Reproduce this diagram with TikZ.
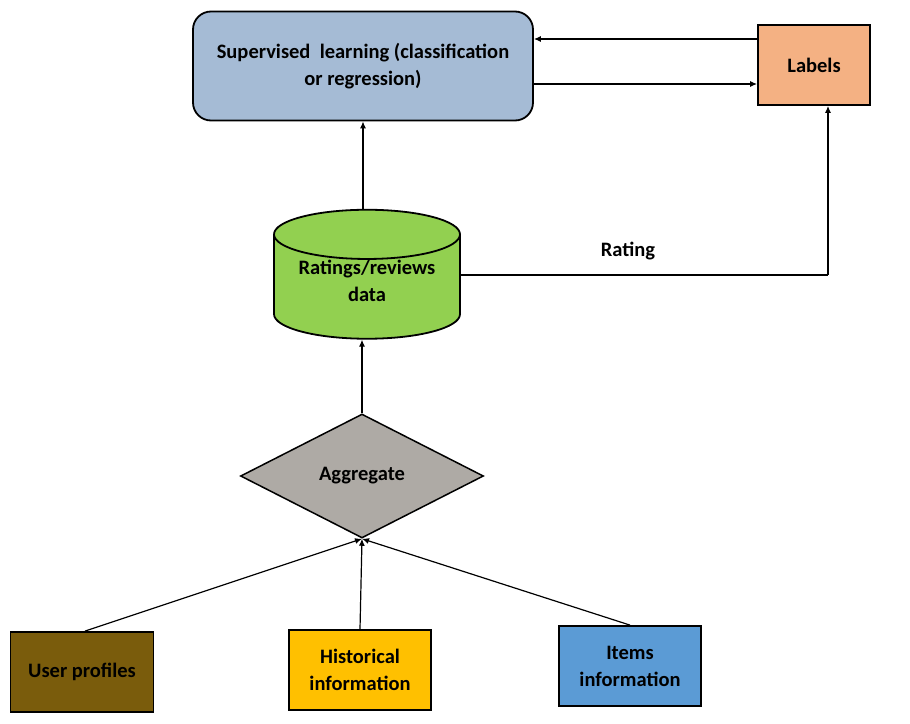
\documentclass[tikz,border=0pt]{standalone}
\usepackage{fontspec}
\setmainfont{Carlito}
\usepackage{tikz}
\usetikzlibrary{positioning,shapes.geometric,arrows.meta}

\definecolor{supblue}{HTML}{A5BBD5}
\definecolor{labsalmon}{HTML}{F4B183}
\definecolor{datagreen}{HTML}{92D050}
\definecolor{aggrgrey}{HTML}{AEAAA5}
\definecolor{userbrown}{HTML}{7A5C0C}
\definecolor{histgold}{HTML}{FFC000}
\definecolor{itemblue}{HTML}{5B9BD5}

\begin{document}
\begin{tikzpicture}[x=1pt,y=1pt,font=\bfseries\fontsize{20.5}{27}\selectfont,
	box/.style={draw=black,line width=1.8pt,align=center,inner sep=0pt},
	conn/.style={line width=1.2pt,-{Latex[length=7pt,width=6pt]}}]
	
	\useasboundingbox (0,0) rectangle (910,-723);
	
	\node[box,rounded corners=18pt,fill=supblue,minimum width=340pt,minimum height=109pt] (sup) at (363,-66) {Supervised~ learning (classification\\or regression)};
	\node[box,fill=labsalmon,minimum width=112pt,minimum height=80pt] (lab) at (814,-65) {Labels};
	\node[box,shape=cylinder,shape border rotate=90,aspect=0.36,fill=datagreen,minimum width=186pt,minimum height=129pt] (data) at (367,-287) {\raisebox{-0.5pt}[0pt][0pt]{\begin{tabular}{@{}c@{}}Ratings/reviews\\data\end{tabular}}};
	\node[box,shape=diamond,fill=aggrgrey,minimum width=243pt,minimum height=124pt,line width=1.5pt] (aggr) at (362,-476) {Aggregate};
	\node[box,fill=userbrown,minimum width=143pt,minimum height=80pt] (user) at (82,-672) {User profiles};
	\node[box,fill=histgold,minimum width=142pt,minimum height=80pt] (hist) at (360,-670) {Historical\\information};
	\node[box,fill=itemblue,minimum width=142pt,minimum height=80pt] (item) at (630,-666) {Items\\information};
	
	\coordinate (turn) at (828,-275);
	
	\path [conn] ([yshift=26pt]lab.west) edge ([yshift=27pt]sup.east);
	\path [conn] ([yshift=-18pt]sup.east) edge ([yshift=-19pt]lab.west);
	\path [conn] (sup.south |- data.north) edge (sup.south);
	\draw [line width=1.2pt] (data.east |- turn) -- (turn);
	\path [conn] (turn) edge (turn |- lab.south);
	\node (rat) at (628,-251) {Rating};
	\path [conn] (aggr.north) edge (aggr.north |- data.south);
	\path [conn] ([xshift=3pt]user.north) edge (aggr.south);
	\path [conn] (hist.north) edge (aggr.south);
	\path [conn] (item.north) edge (aggr.south);
	
\end{tikzpicture}
\end{document}
